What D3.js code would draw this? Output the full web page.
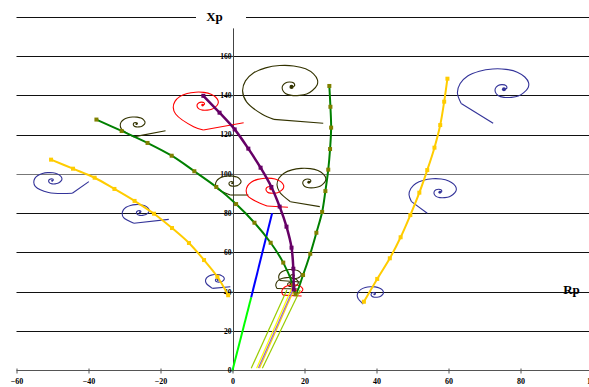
<!DOCTYPE html>
<html><head><meta charset="utf-8">
<script src="https://cdn.jsdelivr.net/npm/d3@7"></script>
<style>body{margin:0;background:#fff}svg{display:block}</style>
</head><body>
<svg id="c" width="589" height="387"></svg>
<script>
// ---- data ----
const xTicks = [-60,-40,-20,0,20,40,60,80,100];
const yTicks = [0,20,40,60,80,100,120,140,160];
const gridValues = [20,40,60,80,100,120,140,160,180];

const yellowLeft = [[-50.4,107.2],[-44.3,102.6],[-38.3,98.0],[-32.8,92.3],[-27.2,86.2],[-21.8,79.7],[-16.8,72.4],[-12.1,64.8],[-7.9,56.1],[-4.2,47.6],[-1.2,38.2]];
const greenCurve = [[-37.8,127.6],[-30.8,121.8],[-23.6,115.7],[-16.9,109.2],[-10.6,101.3],[-4.5,93.3],[1.0,84.6],[6.1,75.1],[10.6,64.9],[14.1,54.8],[16.8,43.4],[17.5,38.7],[19.6,48.5],[21.6,59.3],[23.3,70.0],[24.9,80.6],[25.8,91.2],[26.6,102.1],[27.1,112.6],[27.4,123.5],[27.2,134.1],[26.9,144.7]];
const purpleCurve = [[-8.1,139.7],[-3.6,131.1],[0.6,122.6],[4.4,112.8],[7.8,103.1],[10.8,93.3],[13.1,83.3],[15.0,73.1],[16.4,62.4],[16.9,51.7],[17.0,41.2]];
const yellowRight = [[59.7,148.4],[58.8,136.7],[57.7,124.8],[56.1,113.3],[54.1,101.9],[51.9,90.4],[49.4,79.0],[46.7,67.7],[43.7,57.0],[40.2,46.5],[36.5,34.9]];
const greenLine = [[0,0],[5.2,37.2]];
const blueLine = [[5.2,37.2],[11.0,79.9]];
const thinYG1 = [[5.2,1.0],[15.1,40.9]];
const thinYellow1 = [[6.7,1.0],[16.5,41.9]];
const thinYellow2 = [[7.5,1.0],[17.3,41.9]];
const thinPurple = [[7.2,1.2],[17.0,41.9]];
const thinYG2 = [[8.3,1.0],[18.8,40.9]];

// spiral template (offsets in Rp/Xp units, at scale 1), centre outward
const spiralShape = [[0,0],[0.8,0.5],[0.6,2.0],[-0.6,2.5],[-1.7,2.0],[-2.5,0.5],[-2.5,-1.5],[-1.7,-3.3],[0,-4.3],[2.2,-4.3],[4.2,-3.6],[5.8,-1.8],[7.1,1.0],[7.2,3.6],[6.1,6.6],[3.9,9.2],[0.6,10.7],[-3.3,10.9],[-7.2,9.7],[-10.6,7.1],[-12.8,3.1],[-13.6,-2.0],[-12.5,-7.6]];
// spiral instances: centre, scale, tail points, colour group
const spiralCentres = [[16.4,144.2],[-8.3,135.0],[75.4,143.0],[-50.1,96.5],[-25.75,80.4],[-4.1,46.0],[39.4,38.7],[57.6,90.6],[-26.7,125.3],[-0.1,95.2],[21.2,95.7],[10.6,92.3],[16.9,48.0],[16.1,43.9],[17.5,40.4]];
const spiralScales = [1.0,0.6,0.95,0.375,0.36,0.25,0.35,0.63,0.33,0.34,0.65,0.5,0.3,0.3,0.28];
const spiralTails = [
  [[8.25,130.3],[11.5,127.7],[25.2,125.7]],
  [[-10.8,124.0],[-8.1,122.3],[3.1,126.0]],
  [[72.4,125.7]],
  [[-51.1,90.5],[-44.5,90.1],[-39.9,96.0]],
  [[-27.4,74.8],[-17.7,76.8]],
  [[-5.6,41.7],[-0.6,42.5]],
  [[36.3,33.7]],
  [[54.1,79.9]],
  [[-27.5,118.8],[-18.6,121.9]],
  [[-0.6,89.2],[4.4,89.2]],
  [[16.1,85.8],[24.25,83.3]],
  [[9.6,83.6],[15.4,83.0]],
  [[18.9,44.9]],
  [[18.3,41.4]],
  [[19.2,37.8]]
];
const spiralGroups = ["olive","red","blue","blue","blue","blue","blue","blue","olive","olive","olive","red","olive","olive","red"];

// ---- drawing ----
const svg = d3.select("#c");
const x = d3.scaleLinear().domain([-60,100]).range([16.5,592.5]);
const y = d3.scaleLinear().domain([0,180]).range([370.3,16.6]);
const colors = {blue:"#333399", olive:"#333300", red:"#FF0000"};
const serif = "'Liberation Serif','Times New Roman',serif";

// gridlines
svg.append("g").selectAll("line").data(gridValues).join("line")
  .attr("x1", x(-60)).attr("x2", 589)
  .attr("y1", d => Math.round(y(d))+0.5).attr("y2", d => Math.round(y(d))+0.5)
  .attr("stroke", d => d === 100 ? "#777" : "#111").attr("stroke-width", 1);

// x axis
const xAxis = d3.axisBottom(x).tickValues(xTicks).tickSize(3).tickFormat(d3.format("d"));
const gx = svg.append("g").attr("transform", `translate(0,${Math.round(y(0))+0.5})`).call(xAxis);
gx.select(".domain").attr("d", `M${x(-60)},0H589`).attr("stroke","#555");
gx.selectAll(".tick line").attr("y1",-2).attr("stroke","#555");
gx.selectAll(".tick text").attr("font-family", serif).attr("font-weight","bold").attr("font-size","8px").attr("dy","0.9em").attr("fill","#000");

// y axis at Rp = 0
const yAxis = d3.axisLeft(y).tickValues(yTicks).tickSize(3).tickFormat(d3.format("d"));
const gy = svg.append("g").attr("transform", `translate(${Math.round(x(0))+0.5},0)`).call(yAxis);
gy.select(".domain").attr("d", `M0,${y(0)}V${y(174)}`).attr("stroke","#444");
gy.selectAll(".tick line").attr("stroke","#444");
gy.selectAll(".tick text").attr("font-family", serif).attr("font-weight","bold").attr("font-size","7.5px").attr("x",-2).attr("fill","#000");

// axis titles
svg.append("rect").attr("x",196).attr("y",8).attr("width",50).attr("height",16).attr("fill","#fff");
svg.append("text").attr("x",214.5).attr("y",21).attr("text-anchor","middle")
  .attr("font-family",serif).attr("font-weight","bold").attr("font-size","13px").text("Xp");
svg.append("text").attr("x",571.5).attr("y",294).attr("text-anchor","middle")
  .attr("font-family",serif).attr("font-weight","bold").attr("font-size","13px").text("Rp");

const lineSmooth = d3.line().x(d=>x(d[0])).y(d=>y(d[1])).curve(d3.curveCatmullRom.alpha(0.5));
const lineStraight = d3.line().x(d=>x(d[0])).y(d=>y(d[1]));

// spirals
spiralCentres.forEach((c,i)=>{
  const s = spiralScales[i];
  const pts = spiralShape.map(p=>[c[0]+s*p[0], c[1]+s*p[1]]);
  const tail = spiralTails[i];
  const curvePts = pts.concat(tail.slice(0, tail.length-1));
  const col = colors[spiralGroups[i]];
  svg.append("path").attr("d", lineSmooth(curvePts)).attr("fill","none").attr("stroke",col).attr("stroke-width",1.1);
  svg.append("path").attr("d", lineStraight([curvePts[curvePts.length-1], tail[tail.length-1]])).attr("fill","none").attr("stroke",col).attr("stroke-width",1.1);
  svg.append("circle").attr("cx",x(c[0])).attr("cy",y(c[1])).attr("r",Math.max(1,1.8*s+0.3)).attr("fill",col);
});

// thin lines
[[thinYG1,"#99CC00"],[thinYellow1,"#FFFF00"],[thinYellow2,"#FFD700"],[thinPurple,"#9966CC"],[thinYG2,"#99CC00"]].forEach(([d,c])=>{
  svg.append("path").attr("d", lineStraight(d)).attr("fill","none").attr("stroke",c).attr("stroke-width",1.2);
});

// green / blue straight
svg.append("path").attr("d", lineStraight(greenLine)).attr("fill","none").attr("stroke","#00FF00").attr("stroke-width",2);
svg.append("path").attr("d", lineStraight(blueLine)).attr("fill","none").attr("stroke","#0000FF").attr("stroke-width",2);

// main curves with markers
function series(data, lineColor, markerColor, w){
  svg.append("path").attr("d", lineSmooth(data)).attr("fill","none").attr("stroke",lineColor).attr("stroke-width",w);
  svg.append("g").selectAll("rect").data(data).join("rect")
    .attr("x", d=>x(d[0])-2).attr("y", d=>y(d[1])-2).attr("width",4).attr("height",4).attr("fill",markerColor);
}
series(yellowLeft, "#FFCC00", "#FFCC00", 2);
series(yellowRight, "#FFCC00", "#FFCC00", 2);
series(greenCurve, "#008000", "#808000", 2);
series(purpleCurve, "#660066", "#660066", 2.5);
</script>
</body></html>
